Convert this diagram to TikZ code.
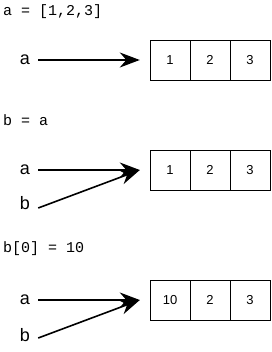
\documentclass[tikz,border=0pt]{standalone}
\usepackage{fontspec}
\setmainfont{Liberation Sans}
\newfontfamily\codefont{Liberation Mono}
\usetikzlibrary{arrows.meta}
\begin{document}
\begin{tikzpicture}[x=1pt,y=-1pt,
    cell/.style={draw,minimum width=40pt,minimum height=40pt,inner sep=0pt,font=\fontsize{13}{15}\selectfont},
    ref/.style={-{Stealth[length=20pt,width=15pt]},line width=1.6pt},
    var/.style={inner xsep=8pt,font=\fontsize{18}{20}\selectfont},
    code/.style={anchor=west,inner sep=0pt,font=\codefont\fontsize{15}{16}\selectfont}]
        \useasboundingbox (0,0) rectangle (271,352);
        % a = [1,2,3]
        \node [code] (c1) at (3,12) {a = [1,2,3]};
        \node [var] (a1) at (25,60) {a};
        \foreach \v [count=\i] in {1,2,3}
            \node [cell] (r1c\i) at (130+40*\i,60) {\v};
        \coordinate (p1) at ([xshift=-10pt]r1c1.west);
        \draw [ref] (a1.east) -- (p1);
        % b = a
        \node [code] (c2) at (3,120) {b = a};
        \node [var] (a2) at (25,170) {a};
        \node [var] (b2) at (25,203) {b};
        \foreach \v [count=\i] in {1,2,3}
            \node [cell] (r2c\i) at (130+40*\i,170) {\v};
        \coordinate (p2) at ([xshift=-10pt]r2c1.west);
        \draw [ref] (a2.east) -- (p2);
        \draw [ref] ([yshift=-5pt]b2.east) -- (p2);
        % b[0] = 10
        \node [code] (c3) at (3,249) {b[0] = 10};
        \node [var] (a3) at (25,300) {a};
        \node [var] (b3) at (25,335) {b};
        \foreach \v [count=\i] in {10,2,3}
            \node [cell] (r3c\i) at (130+40*\i,300) {\v};
        \coordinate (p3) at ([xshift=-10pt]r3c1.west);
        \draw [ref] (a3.east) -- (p3);
        \draw [ref] ([yshift=-3pt]b3.east) -- (p3);
    \end{tikzpicture}
\end{document}
